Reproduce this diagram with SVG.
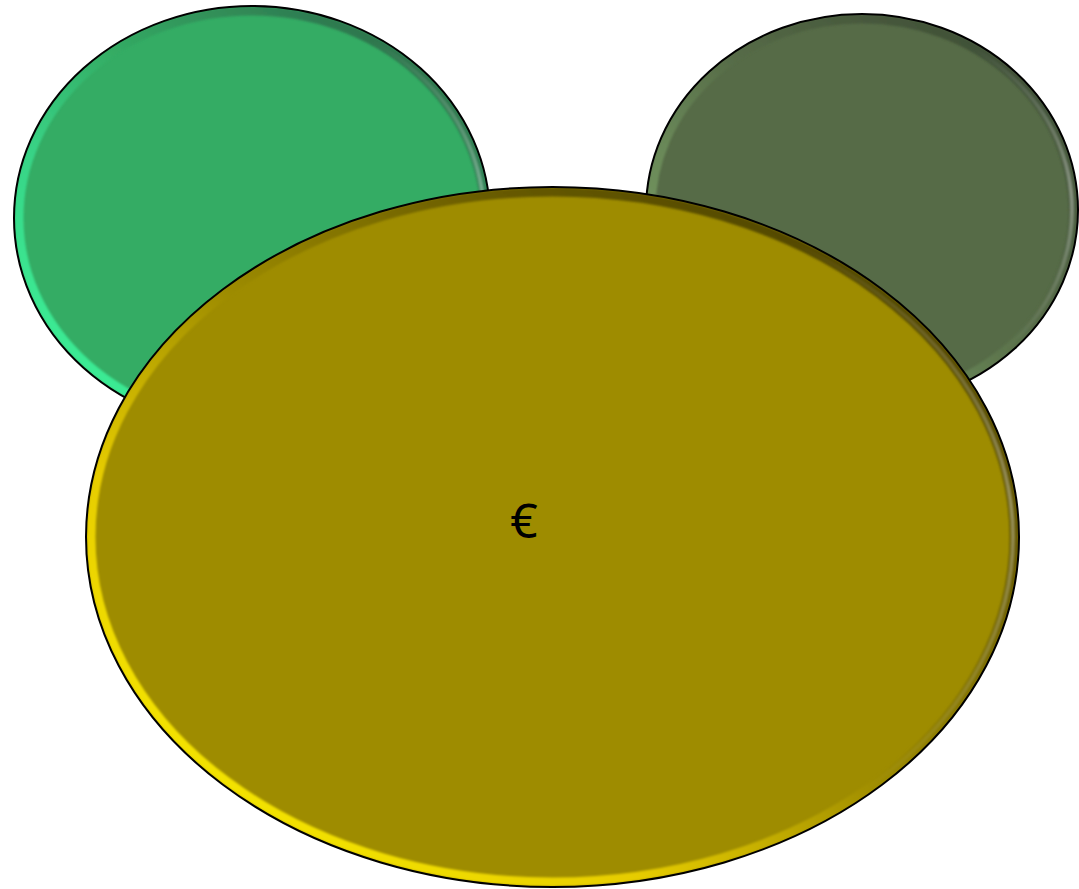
<svg xmlns="http://www.w3.org/2000/svg" width="1079" height="889" viewBox="0 0 1079 889">
  <defs>
    <style>
      .outline { fill: none; stroke: #000; stroke-width: 2; }
      .rim { fill: none; stroke-width: 9; filter: url(#soft); }
      .hi { fill: none; stroke-width: 4; filter: url(#soft); }
      .label { font-family: "Noto Sans", "DejaVu Sans", sans-serif; font-size: 48px; fill: #000; text-anchor: middle; }
    </style>
    <filter id="soft" x="-5%" y="-5%" width="110%" height="110%">
      <feGaussianBlur stdDeviation="0.9"/>
    </filter>
    <linearGradient id="rimGreen" x1="0" y1="1" x2="1" y2="0">
      <stop offset="0" stop-color="#3dfb9e"/>
      <stop offset="0.35" stop-color="#38d285"/>
      <stop offset="0.55" stop-color="#34ac64"/>
      <stop offset="0.8" stop-color="#2f7e52"/>
      <stop offset="1" stop-color="#285f40"/>
    </linearGradient>
    <linearGradient id="rimOlive" x1="0" y1="1" x2="1" y2="0">
      <stop offset="0" stop-color="#80a866"/>
      <stop offset="0.35" stop-color="#698858"/>
      <stop offset="0.55" stop-color="#566b47"/>
      <stop offset="0.8" stop-color="#44553a"/>
      <stop offset="1" stop-color="#37452e"/>
    </linearGradient>
    <linearGradient id="rimYellow" x1="0" y1="1" x2="1" y2="0">
      <stop offset="0" stop-color="#fff600"/>
      <stop offset="0.3" stop-color="#e6cc00"/>
      <stop offset="0.5" stop-color="#9e8c00"/>
      <stop offset="0.72" stop-color="#675a00"/>
      <stop offset="1" stop-color="#3e3600"/>
    </linearGradient>
    <radialGradient id="hiRight" cx="1" cy="0.45" r="0.45">
      <stop offset="0" stop-color="#ffffff" stop-opacity="0.35"/>
      <stop offset="1" stop-color="#ffffff" stop-opacity="0"/>
    </radialGradient>
    <clipPath id="clipL"><ellipse cx="252" cy="218" rx="238" ry="212"/></clipPath>
    <clipPath id="clipR"><ellipse cx="862" cy="210" rx="216" ry="196"/></clipPath>
    <clipPath id="clipY"><ellipse cx="552.5" cy="537" rx="466.5" ry="350"/></clipPath>
  </defs>

  <g id="node-left">
    <ellipse cx="252" cy="218" rx="238" ry="212" fill="#34ac64"/>
    <g clip-path="url(#clipL)">
      <ellipse class="rim" cx="252" cy="218" rx="233" ry="207" stroke="url(#rimGreen)"/>
      <ellipse class="hi" cx="252" cy="218" rx="232" ry="206" stroke="url(#hiRight)"/>
    </g>
    <ellipse class="outline" cx="252" cy="218" rx="238" ry="212"/>
  </g>

  <g id="node-right">
    <ellipse cx="862" cy="210" rx="216" ry="196" fill="#566b47"/>
    <g clip-path="url(#clipR)">
      <ellipse class="rim" cx="862" cy="210" rx="211" ry="191" stroke="url(#rimOlive)"/>
      <ellipse class="hi" cx="862" cy="210" rx="210" ry="190" stroke="url(#hiRight)"/>
    </g>
    <ellipse class="outline" cx="862" cy="210" rx="216" ry="196"/>
  </g>

  <g id="node-center">
    <ellipse cx="552.5" cy="537" rx="466.5" ry="350" fill="#9e8c00"/>
    <g clip-path="url(#clipY)">
      <ellipse class="rim" cx="552.5" cy="537" rx="461.5" ry="345" stroke="url(#rimYellow)"/>
      <ellipse class="hi" cx="552.5" cy="537" rx="460.5" ry="344" stroke="url(#hiRight)"/>
    </g>
    <ellipse class="outline" cx="552.5" cy="537" rx="466.5" ry="350"/>
    <text class="label" x="524" y="538">€</text>
  </g>
</svg>
